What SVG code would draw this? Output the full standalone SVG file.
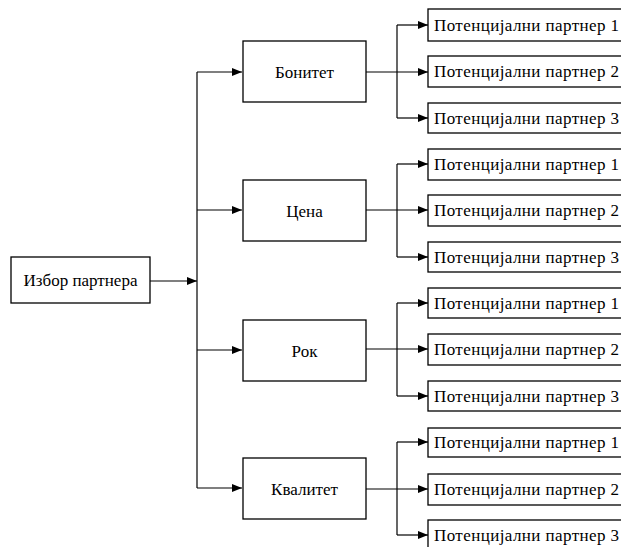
<svg xmlns="http://www.w3.org/2000/svg" width="621" height="547" viewBox="0 0 621 547">
<style>
.box{fill:#fff;stroke:#000;stroke-width:1.3}
text{font-family:'Liberation Serif','Times New Roman','DejaVu Serif',serif;font-size:17px;fill:#000}
.c{text-anchor:middle}
.ln{fill:none;stroke:#000;stroke-width:1.2}
</style>
<defs>
<marker id="ah" markerWidth="10" markerHeight="8" refX="10" refY="4" orient="auto" markerUnits="userSpaceOnUse">
<path d="M0,0 L10,4 L0,8 z" fill="#000"/>
</marker>
</defs>
<rect width="621" height="547" fill="#fff"/>
<g id="connectors">
<path class="ln" d="M150,281 H197" marker-end="url(#ah)"/>
<path class="ln" d="M197,72 V488"/>
<path class="ln" d="M197,72 H242" marker-end="url(#ah)"/>
<path class="ln" d="M197,210 H242" marker-end="url(#ah)"/>
<path class="ln" d="M197,350 H242" marker-end="url(#ah)"/>
<path class="ln" d="M197,488 H242" marker-end="url(#ah)"/>
<path class="ln" d="M366,72 H428" marker-end="url(#ah)"/>
<path class="ln" d="M397,25 V118"/>
<path class="ln" d="M397,25 H428" marker-end="url(#ah)"/>
<path class="ln" d="M397,118 H428" marker-end="url(#ah)"/>
<path class="ln" d="M366,210 H428" marker-end="url(#ah)"/>
<path class="ln" d="M397,164 V257"/>
<path class="ln" d="M397,164 H428" marker-end="url(#ah)"/>
<path class="ln" d="M397,257 H428" marker-end="url(#ah)"/>
<path class="ln" d="M366,349 H428" marker-end="url(#ah)"/>
<path class="ln" d="M397,303 V396"/>
<path class="ln" d="M397,303 H428" marker-end="url(#ah)"/>
<path class="ln" d="M397,396 H428" marker-end="url(#ah)"/>
<path class="ln" d="M366,489 H428" marker-end="url(#ah)"/>
<path class="ln" d="M397,442 V535"/>
<path class="ln" d="M397,442 H428" marker-end="url(#ah)"/>
<path class="ln" d="M397,535 H428" marker-end="url(#ah)"/>
</g>
<g id="izbor"><rect class="box" x="11" y="257" width="139" height="46"/><text class="c" x="80.5" y="286" font-family="Liberation Serif, serif">Избор партнера</text></g>
<g id="bonitet"><rect class="box" x="243" y="41" width="123" height="61"/><text class="c" x="304.5" y="78" font-family="Liberation Serif, serif">Бонитет</text></g>
<g id="cena"><rect class="box" x="243" y="180" width="123" height="61"/><text class="c" x="304.5" y="217" font-family="Liberation Serif, serif">Цена</text></g>
<g id="rok"><rect class="box" x="243" y="320" width="123" height="61"/><text class="c" x="304.5" y="357" font-family="Liberation Serif, serif">Рок</text></g>
<g id="kvalitet"><rect class="box" x="243" y="458" width="123" height="61"/><text class="c" x="304.5" y="495" font-family="Liberation Serif, serif">Квалитет</text></g>
<g id="p1a"><rect class="box" x="428" y="9" width="200" height="32"/><text x="434" y="31" textLength="185" font-family="Liberation Serif, serif">Потенцијални партнер 1</text></g>
<g id="p2a"><rect class="box" x="428" y="56" width="200" height="31"/><text x="434" y="77" textLength="185" font-family="Liberation Serif, serif">Потенцијални партнер 2</text></g>
<g id="p3a"><rect class="box" x="428" y="103" width="200" height="30"/><text x="434" y="124" textLength="185" font-family="Liberation Serif, serif">Потенцијални партнер 3</text></g>
<g id="p1b"><rect class="box" x="428" y="149" width="200" height="31"/><text x="434" y="170" textLength="185" font-family="Liberation Serif, serif">Потенцијални партнер 1</text></g>
<g id="p2b"><rect class="box" x="428" y="195" width="200" height="31"/><text x="434" y="216" textLength="185" font-family="Liberation Serif, serif">Потенцијални партнер 2</text></g>
<g id="p3b"><rect class="box" x="428" y="242" width="200" height="30"/><text x="434" y="263" textLength="185" font-family="Liberation Serif, serif">Потенцијални партнер 3</text></g>
<g id="p1c"><rect class="box" x="428" y="288" width="200" height="30"/><text x="434" y="309" textLength="185" font-family="Liberation Serif, serif">Потенцијални партнер 1</text></g>
<g id="p2c"><rect class="box" x="428" y="334" width="200" height="31"/><text x="434" y="355" textLength="185" font-family="Liberation Serif, serif">Потенцијални партнер 2</text></g>
<g id="p3c"><rect class="box" x="428" y="381" width="200" height="30"/><text x="434" y="402" textLength="185" font-family="Liberation Serif, serif">Потенцијални партнер 3</text></g>
<g id="p1d"><rect class="box" x="428" y="428" width="200" height="29"/><text x="434" y="448" textLength="185" font-family="Liberation Serif, serif">Потенцијални партнер 1</text></g>
<g id="p2d"><rect class="box" x="428" y="474" width="200" height="31"/><text x="434" y="495" textLength="185" font-family="Liberation Serif, serif">Потенцијални партнер 2</text></g>
<g id="p3d"><rect class="box" x="428" y="520" width="200" height="31"/><text x="434" y="541" textLength="185" font-family="Liberation Serif, serif">Потенцијални партнер 3</text></g>
</svg>
